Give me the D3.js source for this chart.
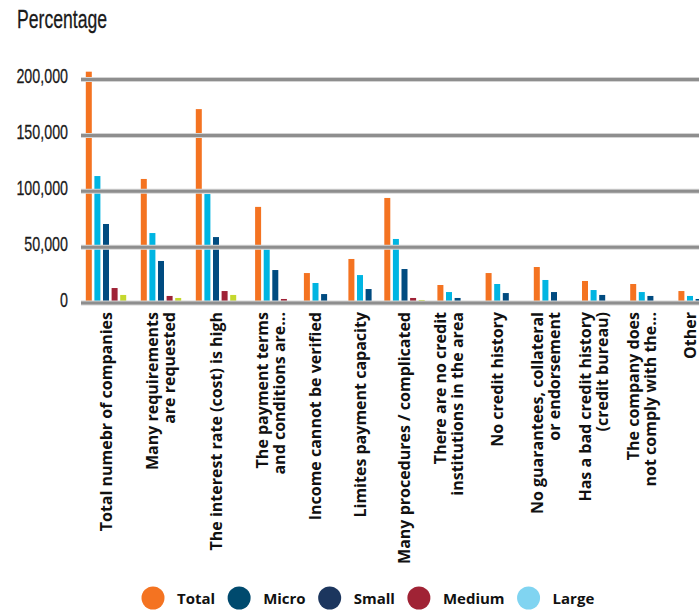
<!DOCTYPE html>
<html>
<head>
<meta charset="utf-8">
<script src="https://cdn.jsdelivr.net/npm/d3@7"></script>
<style>
  body { margin: 0; background: #fff; }
  svg { display: block; }
</style>
</head>
<body>
<svg id="chart" width="699" height="611"></svg>
<script>
// Reasons for not applying for credit, by company size
const categories = [
  ["Total numebr of companies"],
  ["Many requirements", "are requested"],
  ["The interest rate (cost) is high"],
  ["The payment terms", "and conditions are..."],
  ["Income cannot be verified"],
  ["Limites payment capacity"],
  ["Many procedures / complicated"],
  ["There are no credit", "institutions in the area"],
  ["No credit history"],
  ["No guarantees, collateral", "or endorsement"],
  ["Has a bad credit history", "(credit bureau)"],
  ["The company does", "not comply with the..."],
  ["Other"]
];
const seriesNames = ["Total", "Micro", "Small", "Medium", "Large"];
const totalValues  = [207000, 111000, 173500, 86000, 26800, 39400, 94000, 16100, 26800, 32200, 19700, 17000, 10700];
const microValues  = [113600, 62600, 97500, 48000, 17900, 25000, 57300, 9800, 17000, 20600, 11600, 9800, 6300];
const smallValues  = [70700, 37600, 59000, 29500, 8000, 12500, 30400, 4500, 8900, 9800, 7200, 6300, 3600];
const mediumValues = [13400, 6300, 10700, 3600, 0, 0, 4500, 0, 0, 0, 0, 0, 0];
const largeValues  = [7200, 4500, 7200, 0, 0, 0, 2700, 0, 0, 0, 0, 0, 0];
const yTicks = [0, 50000, 100000, 150000, 200000];

const barColors    = ["#f47321", "#00b5e2", "#004b80", "#9f2236", "#c5d82e"];
const legendColors = ["#f47321", "#004a6e", "#1c365e", "#a02335", "#80d4f1"];

const seriesValues = [totalValues, microValues, smallValues, mediumValues, largeValues];

const svg = d3.select("#chart");
const W = 699;
const condensed = "'Liberation Sans', Arial, sans-serif";

// Vertical value scale
const y = d3.scaleLinear().domain([0, 200000]).range([303, 79.5]);

// Group centres along the category axis (groups with more bars take more room)
const x = d3.scaleLinear().domain([0, 3, 7, 12]).range([106, 271, 449, 690]);
const barStep = 8.6, barW = 6;

// Title
svg.append("text")
  .attr("x", 17).attr("y", 28)
  .attr("font-family", condensed)
  .attr("font-size", 26)
  .attr("fill", "#1a1a1a")
  .attr("stroke", "#1a1a1a").attr("stroke-width", 0.3)
  .attr("textLength", 90).attr("lengthAdjust", "spacingAndGlyphs")
  .text("Percentage");

// Bars
const groups = svg.append("g").selectAll("g")
  .data(categories.map((c, i) => {
    const present = seriesValues
      .map((vals, s) => ({ s, v: vals[i] }))
      .filter(d => d.v > 0);
    return { i, present };
  }))
  .join("g");

groups.selectAll("rect")
  .data(g => g.present.map((d, k) => ({ ...d, k, n: g.present.length, i: g.i })))
  .join("rect")
  .attr("x", d => x(d.i) + (d.k - (d.n - 1) / 2) * barStep - barW / 2)
  .attr("width", barW)
  .attr("y", d => y(d.v))
  .attr("height", d => y(0) - y(d.v))
  .attr("fill", d => barColors[d.s]);

// Gridlines on top of the bars
const grid = svg.append("g");
grid.selectAll("line.halo")
  .data(yTicks).join("line").attr("class", "halo")
  .attr("x1", 81).attr("x2", W)
  .attr("y1", d => y(d)).attr("y2", d => y(d))
  .attr("stroke", "#d4d4d4").attr("stroke-width", 5);
grid.selectAll("line.main")
  .data(yTicks).join("line").attr("class", "main")
  .attr("x1", 81).attr("x2", W)
  .attr("y1", d => y(d)).attr("y2", d => y(d))
  .attr("stroke", "#8e8e8e").attr("stroke-width", 3);

// Y tick labels in a narrow face
const fmt = d3.format(",");
svg.append("g").selectAll("text")
  .data(yTicks).join("text")
  .attr("transform", d => `translate(68,${y(d) - 4}) scale(0.68,1)`)
  .attr("dy", "0.36em")
  .attr("text-anchor", "end")
  .attr("font-family", condensed)
  .attr("font-size", 21)
  .attr("fill", "#1a1a1a")
  .attr("stroke", "#1a1a1a").attr("stroke-width", 0.3)
  .text(d => fmt(d));

// Category labels, rotated to read upwards
const labels = svg.append("g").selectAll("g")
  .data(categories).join("g")
  .attr("transform", (d, i) => `translate(${x(i)},312) rotate(-90)`);
labels.selectAll("text")
  .data(d => d.map((t, k) => ({ t, k, n: d.length })))
  .join("text")
  .attr("x", 0)
  .attr("y", d => (d.k - (d.n - 1) / 2) * 17)
  .attr("dy", "0.36em")
  .attr("text-anchor", "end")
  .attr("font-family", "'Open Sans', sans-serif")
  .attr("font-weight", 700)
  .attr("font-size", 16)
  .attr("fill", "#111")
  .text(d => d.t);

// Legend
const legend = svg.append("g");
let lx = 153;
seriesNames.forEach((name, s) => {
  legend.append("circle")
    .attr("cx", lx).attr("cy", 598).attr("r", 11.5)
    .attr("fill", legendColors[s]);
  const t = legend.append("text")
    .attr("x", lx + 24).attr("y", 604)
    .attr("font-family", "'Open Sans', sans-serif")
    .attr("font-weight", 700)
    .attr("font-size", 15)
    .attr("fill", "#111")
    .text(name);
  lx += 24 + t.node().getComputedTextLength() + 24;
});
</script>
</body>
</html>
